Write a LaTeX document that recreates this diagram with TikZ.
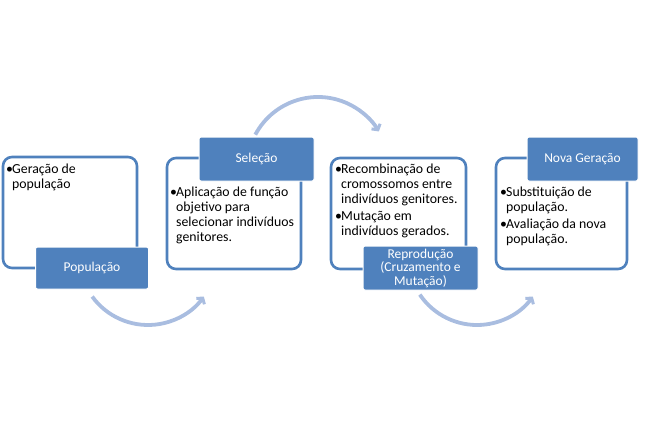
\documentclass[tikz,border=0pt]{standalone}
\usepackage{fontspec}
\setmainfont{Carlito}
\usetikzlibrary{arrows.meta}
\definecolor{ofblue}{HTML}{4F81BD}
\definecolor{arcblue}{HTML}{A9BDE0}
\newcommand{\bl}{\makebox[6pt][l]{•}}
\newcommand{\ind}{\hspace*{6pt}}
\tikzset{
  panel/.style={draw=ofblue, line width=2.6pt, fill=white, rounded corners=9pt},
  tag/.style={draw=white, line width=1pt, fill=ofblue, rounded corners=2pt, text=white,
    font=\fontsize{13.5}{14}\selectfont, align=center, inner sep=0pt},
  body/.style={anchor=north west, align=left, inner sep=0pt,
    font=\fontsize{13.8}{15}\selectfont},
  cyc/.style={draw=arcblue, line width=3.8pt,
    -{Straight Barb[length=4pt,width=10pt,line width=3pt]}}
}
\begin{document}
\begin{tikzpicture}[x=1pt,y=-1pt]
\useasboundingbox (0,0) rectangle (645,426);
% panels
\draw[panel] (3,157) rectangle (137,268);
\draw[panel] (167,158) rectangle (301,269);
\draw[panel] (331,158) rectangle (466,269);
\draw[panel] (496,158) rectangle (627,269);
% body texts
\node[body] (t1) at (6,164) {\bl Geração de\\\ind população};
\node[body] (t2) at (170,187) {\bl Aplicação de função\\\ind objetivo para\\\ind selecionar indivíduos\\\ind genitores.};
\node[body] (t3) at (335,164) {\bl Recombinação de\\\ind cromossomos entre\\\ind indivíduos genitores.\\[2pt]\bl Mutação em\\\ind indivíduos gerados.};
\node[body] (t4) at (500,187) {\bl Substituição de\\\ind população.\\[2pt]\bl Avaliação da nova\\\ind população.};
% tags
\node[tag, minimum width=113pt, minimum height=42pt] (p) at (92,268) {População};
\node[tag, minimum width=115pt, minimum height=44pt] (s) at (256.5,159) {Seleção};
\node[tag, minimum width=115pt, minimum height=44pt, font=\fontsize{13.5}{13.5}\selectfont] (r) at (420.5,268) {Reprodução\\(Cruzamento e\\Mutação)};
\node[tag, minimum width=111pt, minimum height=44pt] (n) at (582.5,159) {Nova Geração};
% cycle arrows
\coordinate (c1) at (148,256);
\coordinate (c2) at (318,168);
\coordinate (c3) at (477,256);
\draw[cyc] ([shift={(144:69)}]c1) arc[start angle=144, end angle=36, radius=69];
\draw[cyc] ([shift={(208:71)}]c2) arc[start angle=208, end angle=329, radius=71];
\draw[cyc] ([shift={(146:69)}]c3) arc[start angle=146, end angle=36, radius=69];
\end{tikzpicture}
\end{document}
